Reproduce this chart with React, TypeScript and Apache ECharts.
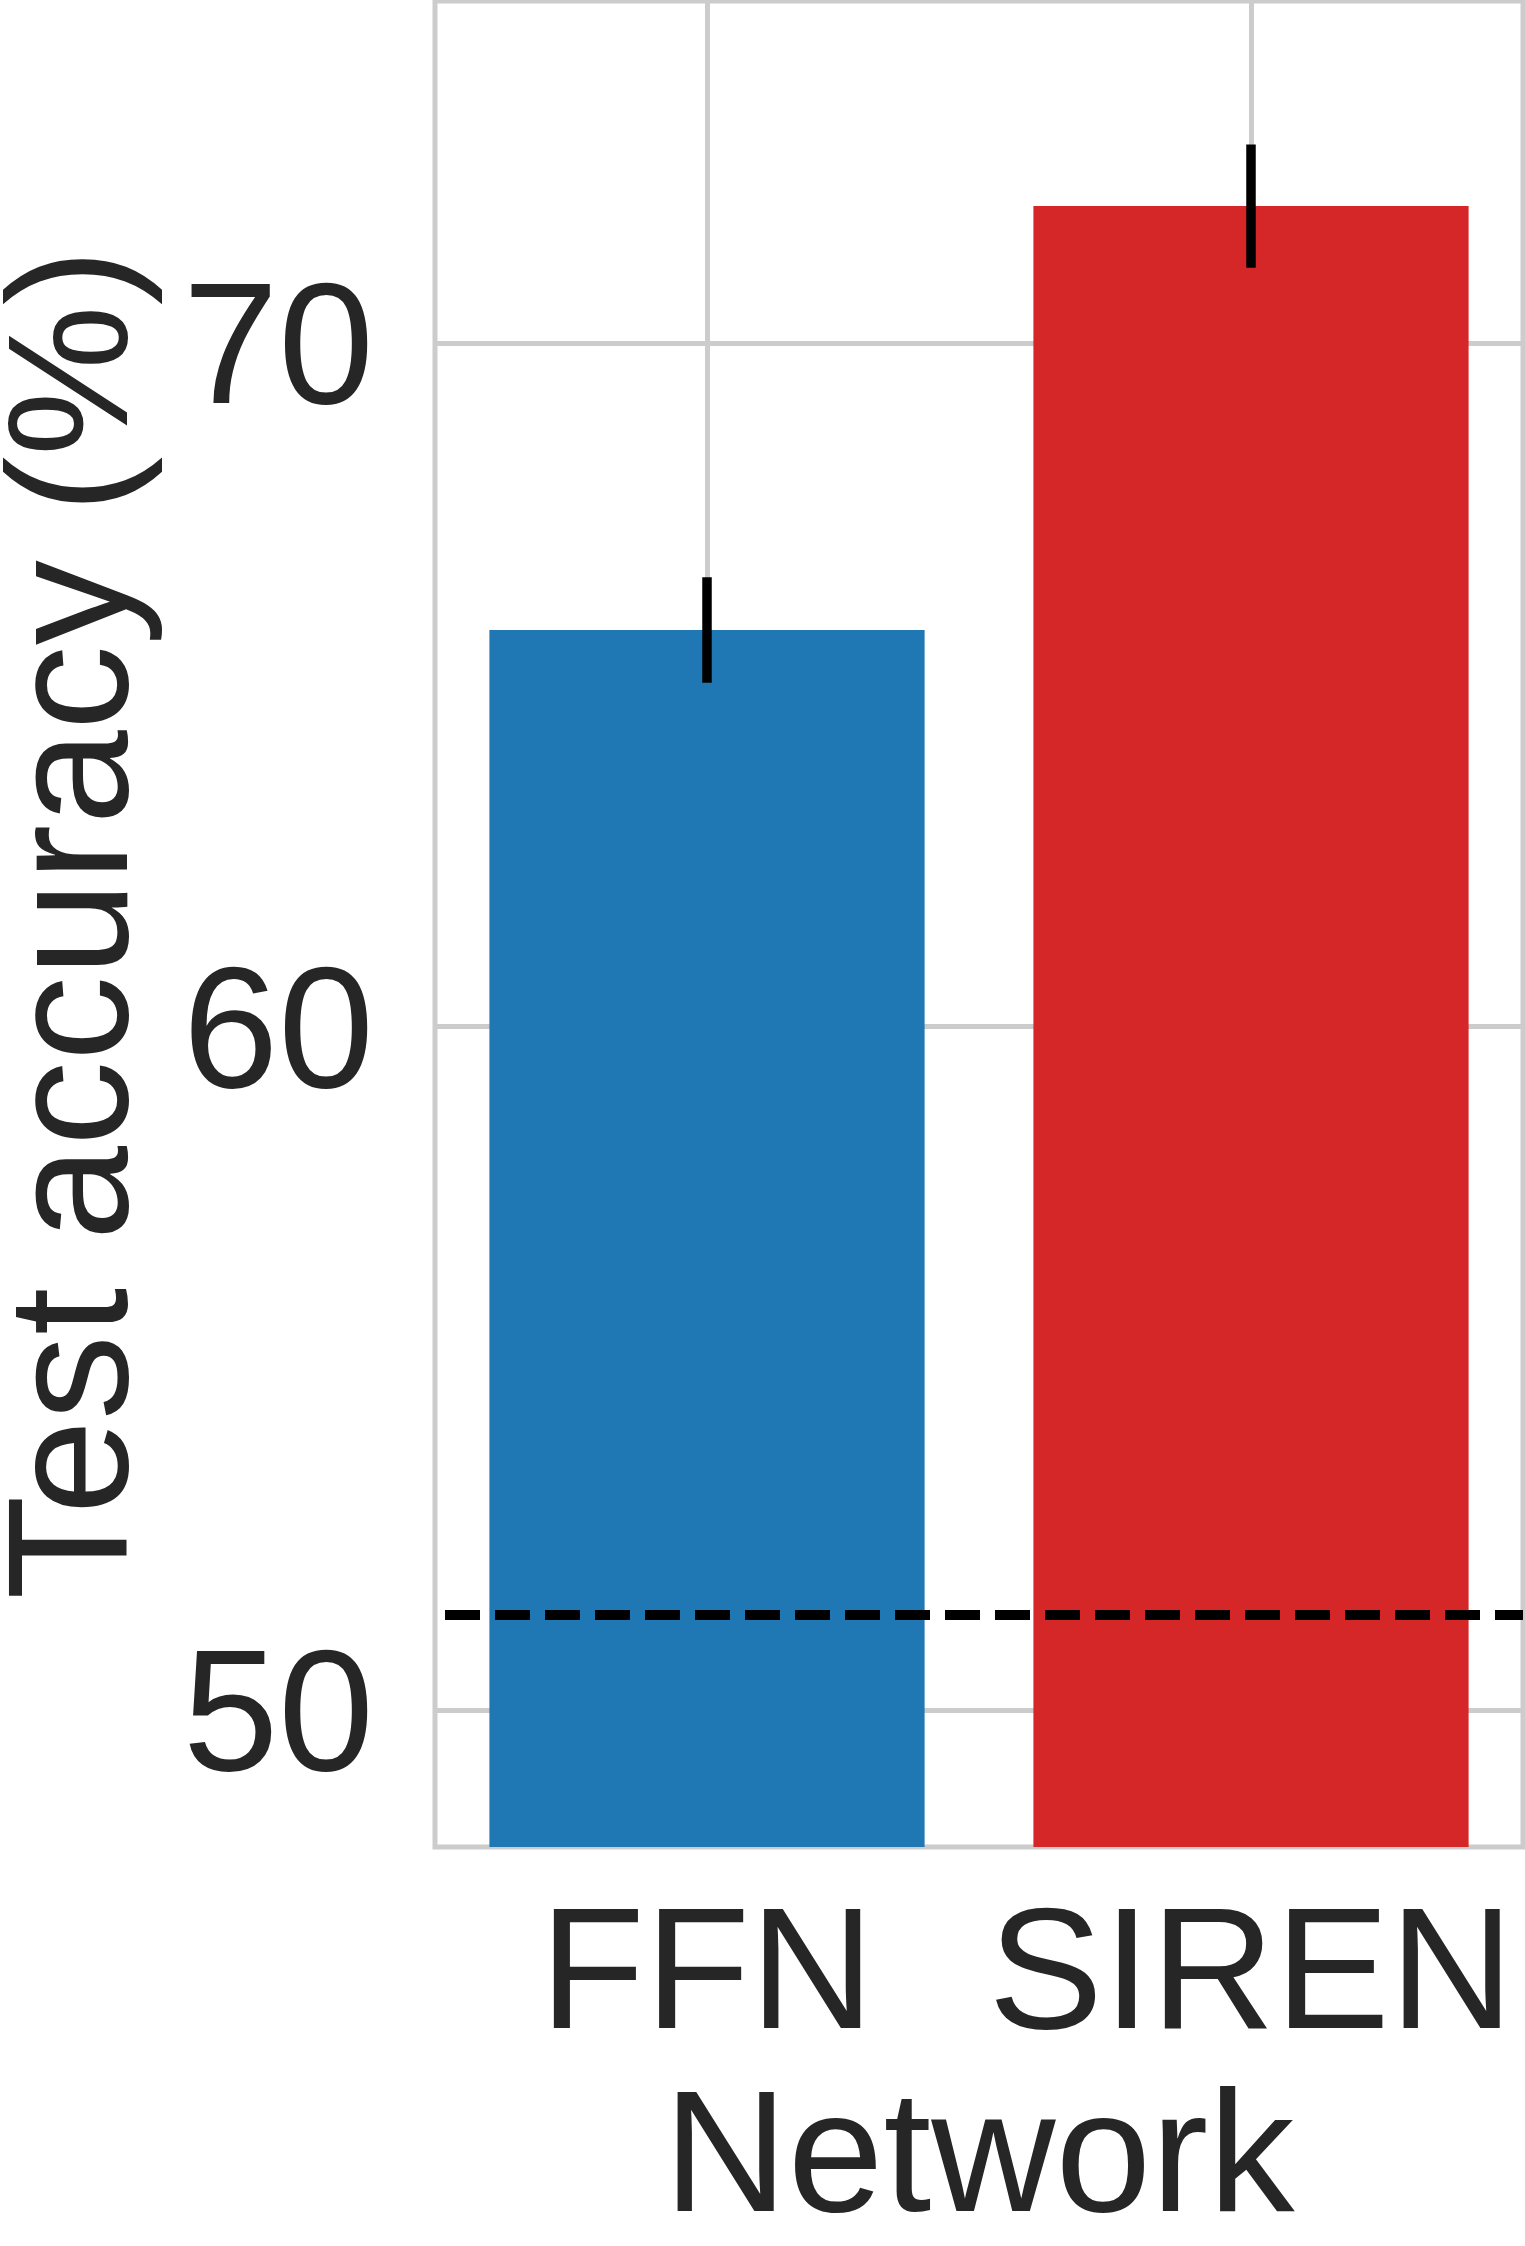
import React, { useEffect, useRef } from "react";
import * as echarts from "echarts";

const categories = ["FFN", "SIREN"];
const accuracy = [65.8, 72.0];
const errLow = [65.03, 71.1];
const errHigh = [66.57, 72.9];
const barColors = ["#1f77b4", "#d62728"];
const baselineValue = 51.4;
const yTicks = [50, 60, 70];

const FONT = "Liberation Sans, Arial, Helvetica, sans-serif";
const TEXT = "#262626";
const GRID = "#cccccc";

export default function App() {
  const ref = useRef<HTMLDivElement>(null);
  useEffect(() => {
    if (!ref.current) return;
    const chart = echarts.init(ref.current, null, { renderer: "svg" });
    chart.setOption({
      animation: false,
      backgroundColor: "#ffffff",
      grid: {
        left: 435,
        right: 2,
        top: 1,
        bottom: 399,
        show: true,
        borderColor: GRID,
        borderWidth: 5,
        backgroundColor: "transparent",
        containLabel: false,
        outerBoundsMode: "none",
      },
      xAxis: {
        type: "category",
        data: categories,
        axisLine: { show: false },
        axisTick: { show: false },
        splitLine: { show: false },
        axisLabel: {
          interval: 0,
          hideOverlap: false,
          fontSize: 172,
          color: TEXT,
          fontFamily: FONT,
          margin: 35,
        },
        name: "Network",
        nameLocation: "middle",
        nameGap: 218,
        nameTextStyle: { fontSize: 172, color: TEXT, fontFamily: FONT },
      },
      yAxis: {
        type: "value",
        min: 48,
        max: 75,
        axisLine: { show: false },
        axisTick: { show: false, customValues: yTicks },
        splitLine: { show: true, lineStyle: { color: GRID, width: 5 } },
        axisLabel: {
          customValues: yTicks,
          fontSize: 172,
          color: TEXT,
          fontFamily: FONT,
          margin: 61,
        },
        name: "Test accuracy (%)",
        nameLocation: "middle",
        nameRotate: 90,
        nameGap: 282,
        nameTextStyle: { fontSize: 170, color: TEXT, fontFamily: FONT },
      },
      series: [
        {
          type: "line",
          data: [],
          z: 1,
          silent: true,
          markLine: {
            silent: true,
            z: 1,
            symbol: "none",
            label: { show: false },
            lineStyle: { color: GRID, width: 5, type: "solid" },
            data: categories.map((c) => ({ xAxis: c })),
          },
        },
        {
          type: "bar",
          z: 2,
          barCategoryGap: "20%",
          data: accuracy.map((v, i) => ({
            value: v,
            itemStyle: { color: barColors[i] },
          })),
          markLine: {
            silent: true,
            symbol: "none",
            label: { show: false },
            z: 5,
            lineStyle: {
              color: "#000000",
              width: 10,
              type: [35, 15],
              dashOffset: 40,
            },
            data: [{ yAxis: baselineValue }],
          },
        },
        {
          type: "custom",
          z: 6,
          silent: true,
          data: categories.map((_, i) => [i, errLow[i], errHigh[i]]),
          renderItem: (params: any, api: any) => {
            const p1 = api.coord([api.value(0), api.value(1)]);
            const p2 = api.coord([api.value(0), api.value(2)]);
            return {
              type: "line",
              shape: { x1: p1[0], y1: p1[1], x2: p2[0], y2: p2[1] },
              style: { stroke: "#000000", lineWidth: 9.5 },
            };
          },
        },
      ],
    });
    return () => chart.dispose();
  }, []);
  return (
    <div
      ref={ref}
      style={{ position: "absolute", left: 0, top: 0, width: 1525, height: 2246 }}
    />
  );
}
